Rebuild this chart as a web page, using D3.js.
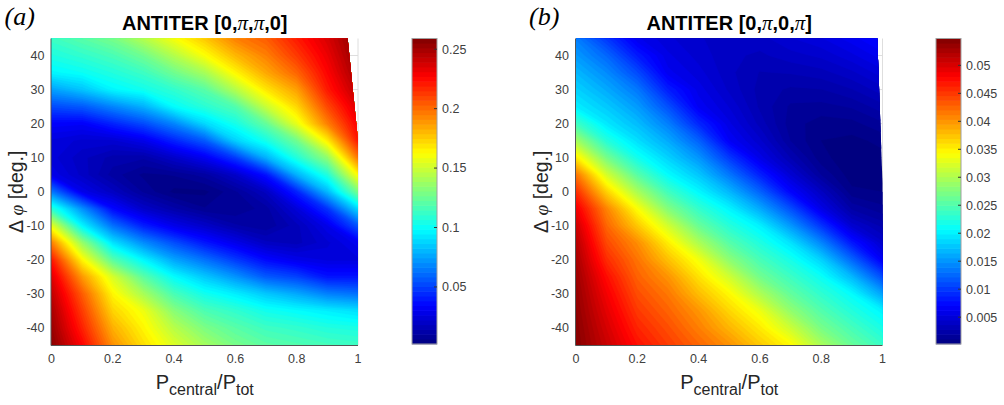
<!DOCTYPE html>
<html>
<head>
<meta charset="utf-8">
<script src="https://cdn.jsdelivr.net/npm/d3@7"></script>
<style>
  body { margin: 0; background: #fff; }
  svg { display: block; font-family: "Liberation Sans", Arial, Helvetica, sans-serif; }
</style>
</head>
<body>
<div id="chart"></div>
<script>
// grid the maps were read on
var pRatio = [0, 0.1, 0.2, 0.3, 0.4, 0.5, 0.6, 0.7, 0.8, 0.9, 1];
var dPhi = [45, 40, 35, 30, 25, 20, 15, 10, 5, 0, -5, -10, -15, -20, -25, -30, -35, -40, -45];

var xTicks = [0, 0.2, 0.4, 0.6, 0.8, 1];
var yTicks = [-40, -30, -20, -10, 0, 10, 20, 30, 40];
var cbTicksA = [0.05, 0.1, 0.15, 0.2, 0.25];
var cbTicksB = [0.005, 0.01, 0.015, 0.02, 0.025, 0.03, 0.035, 0.04, 0.045, 0.05];
var cbRangeA = [0.002, 0.259];
var cbRangeB = [0.0002, 0.0548];

// outline of the computed region (white wedge top right)
var edgeA = [[0, -45], [1, -45], [1, 15], [0.966, 45], [0, 45]];
var edgeB = [[0, -45], [1, -45], [1, 2.6], [0.983, 45], [0, 45]];

// one column per P ratio, values from +45 down to -45 deg
var fieldA = [
  [.115, .107, .098, .076, .054, .035, .027, .026, .030, .066, .110, .158, .196, .222, .236, .244, .250, .254, .258],
  [.122, .112, .102, .085, .058, .034, .024, .020, .021, .030, .072, .098, .138, .166, .190, .205, .213, .220, .228],
  [.130, .118, .108, .098, .069, .044, .024, .015, .012, .020, .037, .064, .093, .122, .154, .166, .175, .184, .192],
  [.145, .128, .115, .104, .080, .054, .030, .014, .007, .010, .022, .043, .071, .098, .123, .142, .160, .166, .172],
  [.162, .145, .128, .112, .100, .069, .044, .022, .008, .004, .014, .030, .055, .077, .100, .118, .134, .146, .155],
  [.178, .163, .142, .122, .110, .090, .058, .032, .012, .004, .008, .022, .041, .064, .086, .104, .119, .131, .141],
  [.196, .182, .166, .145, .120, .105, .088, .050, .022, .010, .008, .014, .030, .050, .073, .096, .112, .122, .130],
  [.205, .196, .186, .170, .150, .125, .105, .080, .040, .020, .012, .011, .020, .037, .058, .086, .104, .115, .123],
  [.222, .214, .203, .188, .174, .158, .128, .108, .080, .044, .026, .018, .018, .030, .052, .078, .100, .112, .120],
  [.238, .233, .228, .222, .210, .196, .168, .136, .108, .082, .048, .030, .024, .027, .040, .068, .096, .108, .117],
  [.258, .256, .252, .246, .238, .230, .222, .198, .165, .130, .090, .056, .032, .027, .040, .064, .092, .106, .115]
];

var fieldB = [
  [.0140, .0155, .0171, .0186, .0201, .0243, .0297, .0356, .0420, .0459, .0490, .0510, .0522, .0530, .0536, .0540, .0543, .0546, .0548],
  [.0102, .0128, .0147, .0164, .0181, .0198, .0229, .0273, .0323, .0370, .0412, .0428, .0444, .0460, .0477, .0488, .0497, .0505, .0512],
  [.0064, .0086, .0112, .0137, .0156, .0174, .0193, .0219, .0257, .0300, .0345, .0376, .0407, .0421, .0431, .0442, .0453, .0464, .0475],
  [.0052, .0058, .0065, .0088, .0115, .0141, .0164, .0186, .0210, .0244, .0280, .0322, .0355, .0380, .0404, .0419, .0430, .0441, .0451],
  [.0045, .0048, .0053, .0060, .0067, .0093, .0125, .0153, .0180, .0207, .0237, .0266, .0302, .0340, .0362, .0382, .0403, .0415, .0428],
  [.0042, .0040, .0040, .0043, .0050, .0058, .0069, .0103, .0137, .0171, .0205, .0230, .0256, .0285, .0321, .0349, .0368, .0386, .0405],
  [.0042, .0037, .0032, .0030, .0031, .0036, .0046, .0060, .0090, .0126, .0164, .0203, .0226, .0248, .0271, .0303, .0337, .0357, .0375],
  [.0050, .0042, .0033, .0025, .0019, .0017, .0020, .0032, .0050, .0074, .0115, .0155, .0195, .0221, .0242, .0263, .0288, .0319, .0348],
  [.0056, .0046, .0036, .0026, .0018, .0011, .0008, .0010, .0020, .0040, .0060, .0101, .0145, .0186, .0215, .0235, .0254, .0274, .0300],
  [.0066, .0055, .0043, .0032, .0021, .0012, .0006, .0004, .0004, .0010, .0025, .0048, .0085, .0128, .0172, .0210, .0228, .0247, .0265],
  [.0078, .0066, .0054, .0042, .0030, .0019, .0010, .0006, .0005, .0008, .0016, .0030, .0046, .0068, .0114, .0160, .0205, .0222, .0240]
];

// MATLAB jet
var jet = d3.scaleLinear()
  .domain([0, 0.125, 0.375, 0.625, 0.875, 1])
  .range(["#000080", "#0000ff", "#00ffff", "#ffff00", "#ff0000", "#800000"])
  .clamp(true);

var W = 1004, H = 405;
var svg = d3.select("#chart").append("svg")
  .attr("width", W)
  .attr("height", H);

var textCol = "#404040";
var serif = "'Liberation Serif', 'Times New Roman', serif";

function drawPanel(o) {
  var x = d3.scaleLinear().domain([0, 1]).range([o.left, o.left + 306.5]);
  var y = d3.scaleLinear().domain([-45, 45]).range([345, 38.5]);
  var color = function(v) { return jet((v - o.range[0]) / (o.range[1] - o.range[0])); };

  // grid lines, drawn under the map like MATLAB's bottom layer
  var grid = svg.append("g").attr("stroke", "#dedede").attr("stroke-width", 1);
  grid.selectAll(".gx").data(xTicks).enter().append("line")
    .attr("x1", function(d) { return x(d); }).attr("x2", function(d) { return x(d); })
    .attr("y1", y(45)).attr("y2", y(-45));
  grid.selectAll(".gy").data(yTicks).enter().append("line")
    .attr("x1", x(0)).attr("x2", x(1))
    .attr("y1", function(d) { return y(d); }).attr("y2", function(d) { return y(d); });

  // filled contours
  var n = pRatio.length, m = dPhi.length;
  var values = [];
  for (var j = 0; j < m; j++)
    for (var i = 0; i < n; i++) values.push(o.field[i][j]);

  var nLev = 90;
  var levels = d3.range(nLev).map(function(k) {
    return o.range[0] + k * (o.range[1] - o.range[0]) / nLev;
  });
  levels[0] = -1;
  var contours = d3.contours().size([n, m]).thresholds(levels)(values);

  var gx = d3.scaleLinear().domain([0.5, n - 0.5]).range([x(pRatio[0]), x(pRatio[n - 1])]);
  var gy = d3.scaleLinear().domain([0.5, m - 0.5]).range([y(dPhi[0]), y(dPhi[m - 1])]);
  var path = d3.geoPath(d3.geoTransform({
    point: function(px, py) { this.stream.point(gx(px), gy(py)); }
  }));

  svg.append("clipPath").attr("id", o.id + "clip")
    .append("polygon")
    .attr("points", o.edge.map(function(d) { return x(d[0]) + "," + y(d[1]); }).join(" "));

  svg.append("g")
    .attr("clip-path", "url(#" + o.id + "clip)")
    .selectAll("path")
    .data(contours)
    .enter().append("path")
      .attr("d", path)
      .attr("fill", function(d) { return color(Math.max(d.value, o.range[0])); })
      .attr("stroke", function(d) { return color(Math.max(d.value, o.range[0])); })
      .attr("stroke-width", 0.3);

  // axis lines (left and bottom)
  svg.append("path")
    .attr("d", "M" + (x(0) - 0.5) + "," + y(45) + "V" + (y(-45) + 0.5) + "H" + x(1))
    .attr("fill", "none")
    .attr("stroke", "#555")
    .attr("stroke-width", 1);

  // tick labels
  svg.append("g").selectAll("text").data(xTicks).enter().append("text")
    .attr("x", function(d) { return x(d); })
    .attr("y", 363)
    .attr("text-anchor", "middle")
    .attr("font-size", 12.5)
    .attr("fill", textCol)
    .text(function(d) { return d; });
  svg.append("g").selectAll("text").data(yTicks).enter().append("text")
    .attr("x", x(0) - 7)
    .attr("y", function(d) { return y(d); })
    .attr("dy", "0.35em")
    .attr("text-anchor", "end")
    .attr("font-size", 12.5)
    .attr("fill", textCol)
    .text(function(d) { return d; });

  // x label
  var xl = svg.append("text")
    .attr("x", (x(0) + x(1)) / 2)
    .attr("y", 389)
    .attr("text-anchor", "middle")
    .attr("font-size", 20)
    .attr("fill", "#262626");
  xl.append("tspan").text("P");
  xl.append("tspan").attr("dy", 6).attr("font-size", 16).text("central");
  xl.append("tspan").attr("dy", -6).text("/P");
  xl.append("tspan").attr("dy", 6).attr("font-size", 16).text("tot");

  // y label
  var yl = svg.append("text")
    .attr("transform", "translate(" + (o.left - 28.5) + "," + ((y(45) + y(-45)) / 2) + ") rotate(-90)")
    .attr("text-anchor", "middle")
    .attr("font-size", 19.5)
    .attr("fill", "#262626");
  yl.append("tspan").text("\u0394 ");
  yl.append("tspan").attr("font-family", serif)
    .attr("font-style", "italic").text("\u03c6");
  yl.append("tspan").text(" [deg.]");

  // title
  var t = svg.append("text")
    .attr("x", (x(0) + x(1)) / 2)
    .attr("y", 30)
    .attr("text-anchor", "middle")
    .attr("font-size", 20)
    .attr("font-weight", "bold")
    .attr("fill", "#000");
  o.title.forEach(function(s) {
    if (s === "\u03c0") {
      t.append("tspan")
        .attr("font-family", serif)
        .attr("font-style", "italic")
        .attr("font-weight", "normal")
        .attr("font-size", 21)
        .text(s);
    } else {
      t.append("tspan").text(s);
    }
  });

  // panel letter
  svg.append("text")
    .attr("x", o.left - 47)
    .attr("y", 25)
    .attr("font-family", serif)
    .attr("font-style", "italic")
    .attr("font-size", 26)
    .attr("fill", "#000")
    .text(o.letter);

  // colorbar
  var cy = d3.scaleLinear().domain(o.range).range([344, 38.5]);
  var cb = svg.append("g");
  var steps = 64;
  var stepVals = d3.range(steps).map(function(k) {
    return o.range[0] + k * (o.range[1] - o.range[0]) / steps;
  });
  var dv = (o.range[1] - o.range[0]) / steps;
  cb.selectAll("rect").data(stepVals).enter().append("rect")
    .attr("x", o.cbLeft)
    .attr("width", 25)
    .attr("y", function(d) { return cy(d + dv) - 0.3; })
    .attr("height", function(d) { return cy(d) - cy(d + dv) + 0.6; })
    .attr("fill", function(d) { return color(d + dv / 2); });
  cb.append("rect")
    .attr("x", o.cbLeft).attr("y", cy.range()[1])
    .attr("width", 25).attr("height", cy.range()[0] - cy.range()[1])
    .attr("fill", "none").attr("stroke", "#a0a0a0").attr("stroke-width", 1);
  cb.selectAll(".tk").data(o.cbTicks).enter().append("line")
    .attr("x1", o.cbLeft + 25).attr("x2", o.cbLeft + 22)
    .attr("y1", function(d) { return cy(d); }).attr("y2", function(d) { return cy(d); })
    .attr("stroke", "#333");
  cb.selectAll("text").data(o.cbTicks).enter().append("text")
    .attr("x", o.cbLeft + 30)
    .attr("y", function(d) { return cy(d); })
    .attr("dy", "0.35em")
    .attr("font-size", 12.5)
    .attr("fill", textCol)
    .text(function(d) { return d; });
}

drawPanel({
  id: "a", letter: "(a)", left: 51.5, cbLeft: 412,
  field: fieldA, range: cbRangeA, edge: edgeA, cbTicks: cbTicksA,
  title: ["ANTITER [0,", "\u03c0", ",", "\u03c0", ",0]"]
});
drawPanel({
  id: "b", letter: "(b)", left: 576, cbLeft: 936,
  field: fieldB, range: cbRangeB, edge: edgeB, cbTicks: cbTicksB,
  title: ["ANTITER [0,", "\u03c0", ",0,", "\u03c0", "]"]
});
</script>
</body>
</html>
